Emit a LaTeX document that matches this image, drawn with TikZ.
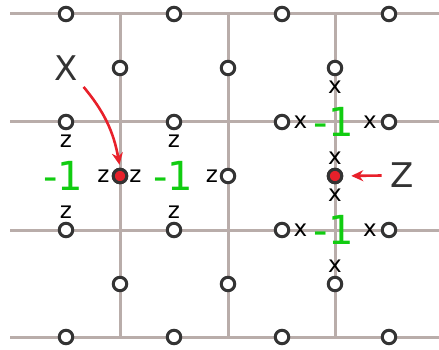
\documentclass[tikz,border=0pt]{standalone}
\usepackage{fontspec}
\setmainfont{DejaVu Sans}
\usetikzlibrary{arrows.meta}
\definecolor{gridc}{HTML}{B9ADAA}
\definecolor{ringc}{HTML}{333333}
\definecolor{dotred}{HTML}{E8202A}
\definecolor{minusc}{HTML}{11CC11}
\begin{document}
\begin{tikzpicture}[x=1pt,y=-1pt,
  gridline/.style={gridc,line width=3pt},
  qubit/.style={circle,draw=ringc,line width=3pt,fill=white,inner sep=0pt,minimum size=13.5pt},
  flipped/.style={qubit,fill=dotred},
  op/.style={font=\fontsize{23}{23}\selectfont,inner sep=0pt},
  sign/.style={text=minusc,font=\fontsize{40}{40}\selectfont,inner sep=0pt},
  big/.style={text=ringc,font=\fontsize{34}{34}\selectfont,inner sep=2pt},
  redarrow/.style={dotred,line width=2.6pt,-{Stealth[length=12pt,width=11pt]}}]
\useasboundingbox (0,0) rectangle (439,350);
% grid
\foreach \y in {14,122,230,337} \draw[gridline] (10,\y) -- (439,\y);
\foreach \x in {120,228,335} \draw[gridline] (\x,14) -- (\x,337);
% horizontal-edge qubits
\foreach \y/\r in {14/a,122/b,230/c,337/d}
  \foreach \x/\c in {66/1,174/2,282/3,389/4}
    \node[qubit] (h\r\c) at (\x,\y) {};
% vertical-edge qubits
\foreach \x/\c in {120/1,228/2,335/3}
  \foreach \y/\r in {68/a,176/b,284/c}
    \node[qubit] (v\r\c) at (\x,\y) {};
\node[flipped] (red1) at (120,176) {};
\node[flipped] (red2) at (335,176) {};
% plaquette operators
\node[op] (z1) at (66,141.5) {z};
\node[op] (z2) at (66,212) {z};
\node[op] (z3) at (103.5,176) {z};
\node[op] (z4) at (135.5,176) {z};
\node[op] (z5) at (174,141.5) {z};
\node[op] (z6) at (174,212) {z};
\node[op] (z7) at (212,176) {z};
\node[sign] (m1) at (63.5,176) {-1};
\node[sign] (m2) at (173,176) {-1};
% vertex operators
\node[op] (x1) at (335,87) {x};
\node[op] (x2) at (300.5,122) {x};
\node[op] (x3) at (370,122) {x};
\node[op] (x4) at (335,158) {x};
\node[op] (x5) at (335,195) {x};
\node[op] (x6) at (300.5,230) {x};
\node[op] (x7) at (370,230) {x};
\node[op] (x8) at (335,266) {x};
\node[sign] (m3) at (333.5,122) {-1};
\node[sign] (m4) at (333.5,230) {-1};
% error labels
\node[big] (X) at (66.5,68.5) {X};
\node[big,inner xsep=8.5pt] (Z) at (402,175.5) {Z};
\draw[redarrow,shorten <=5pt,shorten >=3pt] (X.south east) to[out=-50,in=100] (red1.north);
\draw[redarrow,shorten >=8pt] (Z.west) -- (red2.east);
\end{tikzpicture}
\end{document}
